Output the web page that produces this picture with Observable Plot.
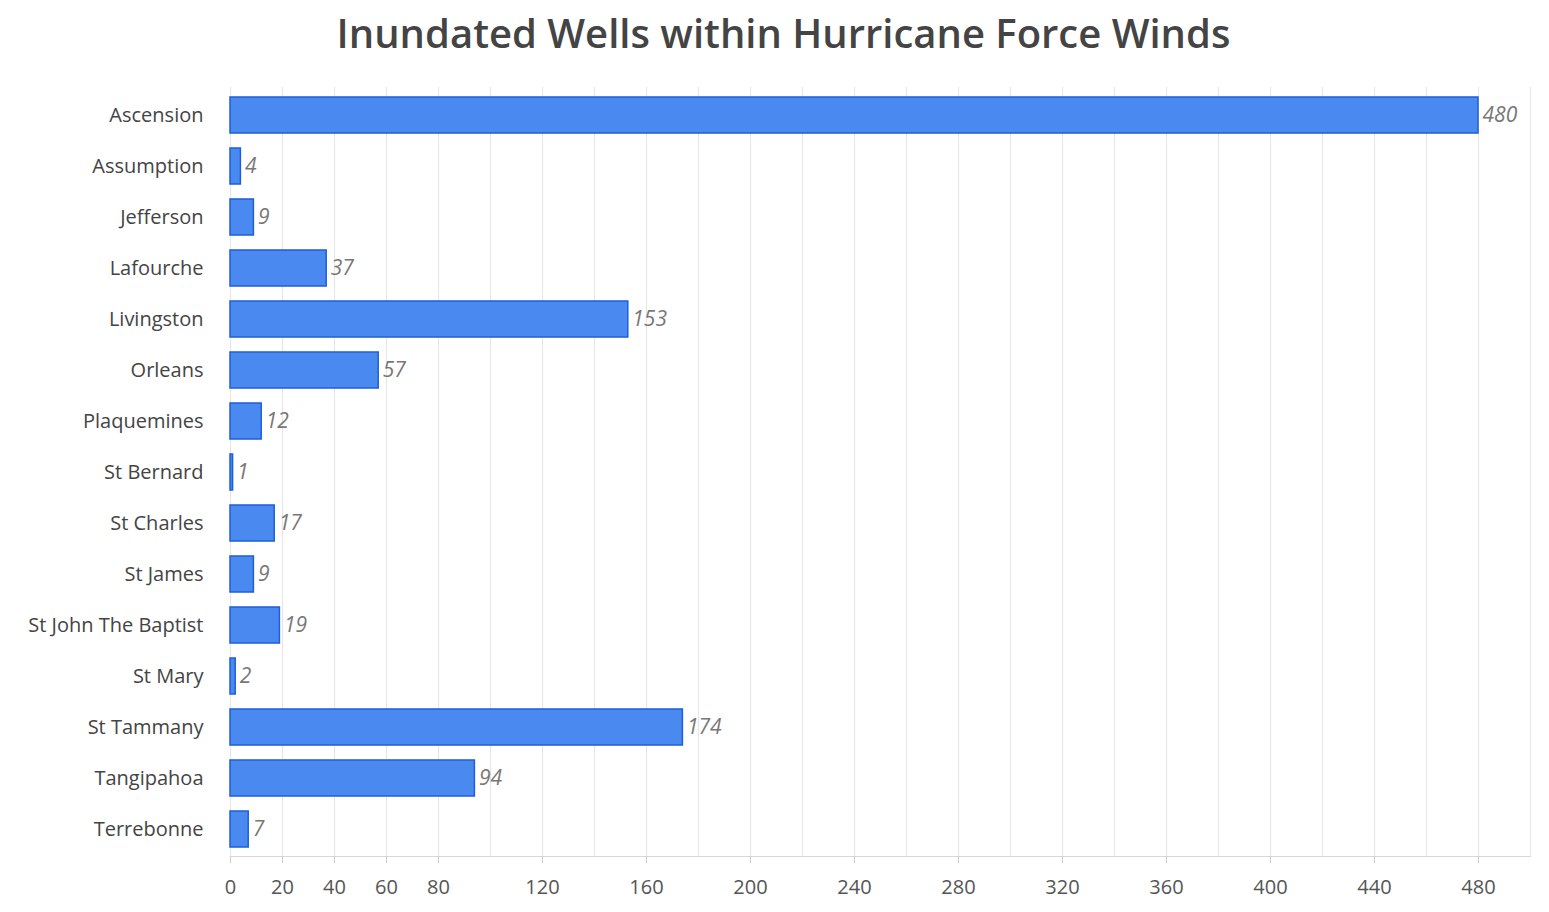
<!DOCTYPE html>
<html>
<head>
<meta charset="utf-8">
<script src="https://cdn.jsdelivr.net/npm/d3@7"></script>
<script src="https://cdn.jsdelivr.net/npm/@observablehq/plot@0.6"></script>
<style>
  html, body { margin: 0; padding: 0; background: #fff; }
  #title { height: 64px; display: flex; align-items: center; justify-content: center;
    font-family: "Open Sans", "Noto Sans", sans-serif; font-weight: 600; font-size: 40px; color: #444;
    padding-left: 18px; box-sizing: border-box; }
  #chart svg { display: block; }
</style>
</head>
<body>
<div id="title">Inundated Wells within Hurricane Force Winds</div>
<div id="chart"></div>
<script>
const parishes = ["Ascension","Assumption","Jefferson","Lafourche","Livingston","Orleans","Plaquemines","St Bernard","St Charles","St James","St John The Baptist","St Mary","St Tammany","Tangipahoa","Terrebonne"];
const wells = [480,4,9,37,153,57,12,1,17,9,19,2,174,94,7];
const xTickLabels = [0,20,40,60,80,120,160,200,240,280,320,360,400,440,480];
const gridValues = d3.range(0, 501, 20);

const data = parishes.map((p, i) => ({parish: p, wells: wells[i]}));
const font = "'Open Sans', 'Noto Sans', sans-serif";

const chart = Plot.plot({
  width: 1549,
  height: 848,
  marginTop: 23,
  marginBottom: 56,
  marginLeft: 230,
  marginRight: 19,
  style: {fontFamily: font, fontSize: "20px", color: "#555", background: "#fff"},
  x: {domain: [0, 500], axis: null},
  y: {domain: parishes, paddingInner: 0.3, paddingOuter: 0.15, axis: null},
  marks: [
    Plot.ruleX(gridValues, {stroke: "#e6e6e6", strokeWidth: 1.2}),
    Plot.frame({anchor: "bottom", stroke: "#d8d8d8", strokeWidth: 1.2}),
    Plot.axisX({ticks: xTickLabels, tickSize: 7, tickPadding: 16, stroke: "#ccc", fill: "#555", fontSize: 20, tickFormat: d => d, label: null}),
    Plot.axisY({tickSize: 0, tickPadding: 27, fill: "#444", fontSize: 20, label: null}),
    Plot.barX(data, {x: "wells", y: "parish", fill: "#4a8af0", stroke: "#1c5fd8", strokeWidth: 1.5}),
    Plot.text(data, {x: "wells", y: "parish", text: d => String(d.wells), textAnchor: "start", dx: 4, fill: "#777", fontStyle: "italic", fontSize: 21})
  ]
});

document.getElementById("chart").append(chart);
</script>
</body>
</html>
